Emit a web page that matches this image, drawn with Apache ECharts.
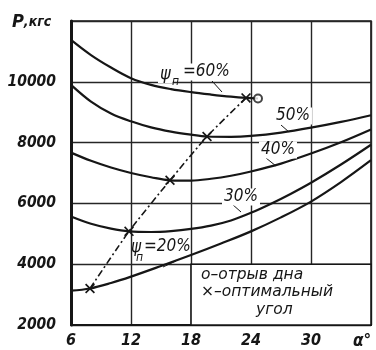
<!DOCTYPE html>
<html>
<head>
<meta charset="utf-8">
<script src="https://cdn.jsdelivr.net/npm/echarts@6/dist/echarts.min.js"></script>
<style>
  html, body { margin: 0; padding: 0; background: #fff; }
  #chart { width: 376px; height: 350px; }
</style>
</head>
<body>
<div id="chart"></div>
<script>
// Axis ticks: blade angle α (degrees) and pulling force P (kgf)
const alphaTicks = [6, 12, 18, 24, 30, 36];
const forceTicks = [2000, 4000, 6000, 8000, 10000, 12000];

// P(α) for each degree of filling ψп, [α, P]
const fill60 = [[6, 11380], [8, 10880], [10, 10470], [12, 10120], [14, 9900], [16, 9760], [18, 9660], [20, 9580], [22, 9510], [23.5, 9470], [24.7, 9450]];
const fill50 = [[6, 9900], [8, 9350], [10, 8960], [12, 8700], [14, 8500], [16, 8360], [18, 8260], [19.6, 8200], [22, 8190], [24, 8220], [27, 8330], [30, 8490], [33, 8680], [36, 8900]];
const fill40 = [[6, 7670], [8, 7400], [10, 7180], [12, 7000], [14, 6860], [15.9, 6760], [18, 6750], [20, 6810], [22, 6910], [24, 7050], [27, 7310], [30, 7640], [33, 8010], [36, 8430]];
const fill30 = [[6, 5570], [8, 5330], [10, 5170], [11.8, 5080], [14, 5060], [16, 5090], [18, 5160], [20, 5270], [22, 5440], [24, 5690], [26, 5990], [28, 6320], [30, 6680], [33, 7280], [36, 7930]];
const fill20 = [[6, 3130], [7.9, 3200], [10, 3380], [12, 3590], [15, 3940], [18, 4300], [21, 4680], [24, 5080], [27, 5540], [30, 6060], [33, 6700], [36, 7420]];

// Optimal angle on each curve, and the point where the bottom breaks away
const optimumPoints = [[7.9, 3200], [11.8, 5080], [15.9, 6760], [19.6, 8200], [23.5, 9470]];
const breakawayPoints = [[24.7, 9450]];

// Note box corners [α0, P0, α1, P1] and its text
const noteBox = [[18, 2000, 36, 4000]];
const noteLines = ['о–отрыв дна', '×–оптимальный', 'угол'];

const INK = '#161616';
const FONT = "'DejaVu Sans Condensed', 'DejaVu Sans', 'Liberation Sans Narrow', sans-serif";
const NOTE_FONT = "'DejaVu Sans', 'Liberation Sans', sans-serif";
const CROSS = 'path://M0,1.2L1.2,0L5,3.8L8.8,0L10,1.2L6.2,5L10,8.8L8.8,10L5,6.2L1.2,10L0,8.8L3.8,5Z';

function curve(name, data) {
  return {
    name, type: 'line', data,
    smooth: 0.35, symbol: 'none',
    lineStyle: { color: INK, width: 2.2 },
    z: 3
  };
}

// White boxed note with the marker explanations, laid out in axis units
function renderNote(params, api) {
  const a = api.coord([api.value(0), api.value(1)]);
  const b = api.coord([api.value(2), api.value(3)]);
  const x = Math.min(a[0], b[0]), y = Math.min(a[1], b[1]);
  const w = Math.abs(b[0] - a[0]), h = Math.abs(b[1] - a[1]);
  const line = { fontFamily: NOTE_FONT, fontStyle: 'italic', fontSize: 15.5, lineHeight: 17.5, fill: INK };
  return {
    type: 'group',
    children: [
      { type: 'rect', shape: { x, y, width: w, height: h },
        style: { fill: '#fff', stroke: INK, lineWidth: 1.6 } },
      { type: 'text', x: x + 10, y: y + 2,
        style: {
          text: '{t|' + noteLines[0] + '}\n{t|' + noteLines[1] + '}\n{c|' + noteLines[2] + '}',
          rich: {
            t: line,
            c: Object.assign({}, line, { padding: [0, 0, 0, 55] })
          },
          fill: INK
        } }
    ]
  };
}

const chart = echarts.init(document.getElementById('chart'), null, { renderer: 'canvas' });

chart.setOption({
  animation: false,
  backgroundColor: '#fff',
  grid: {
    left: 71, right: 5, top: 21, bottom: 24,
    show: true, borderColor: INK, borderWidth: 1.6, backgroundColor: 'transparent'
  },
  xAxis: {
    type: 'value',
    min: alphaTicks[0], max: alphaTicks[alphaTicks.length - 1], interval: 6,
    axisLine: { show: true, lineStyle: { color: INK, width: 2.2 } },
    axisTick: { show: false },
    splitLine: { show: true, lineStyle: { color: '#262626', width: 1.4 } },
    axisLabel: {
      margin: 8,
      color: INK,
      fontFamily: FONT, fontStyle: 'italic', fontSize: 16, fontWeight: 'bold',
      formatter: v => v === 36 ? '{a|α°}' : String(v),
      rich: { a: { fontFamily: FONT, fontStyle: 'italic', fontSize: 17, color: INK, padding: [0, 18, 0, 0] } }
    }
  },
  yAxis: {
    type: 'value',
    min: forceTicks[0], max: forceTicks[forceTicks.length - 1], interval: 2000,
    axisLine: { show: true, lineStyle: { color: INK, width: 3 } },
    axisTick: { show: false },
    splitLine: { show: true, lineStyle: { color: '#262626', width: 1.4 } },
    axisLabel: {
      margin: 15,
      color: INK,
      fontFamily: FONT, fontStyle: 'italic', fontSize: 15.5, fontWeight: 'bold',
      formatter: v => v === 12000 ? '' : String(v)
    }
  },
  series: [
    {
      name: 'note', type: 'custom', data: noteBox,
      encode: { x: [0, 2], y: [1, 3] },
      renderItem: renderNote, silent: true, z: 6
    },
    curve('ψп=60%', fill60),
    curve('50%', fill50),
    curve('40%', fill40),
    curve('30%', fill30),
    curve('ψп=20%', fill20),
    {
      name: 'оптимальный угол', type: 'line', data: optimumPoints,
      smooth: 0.2,
      symbol: CROSS, symbolSize: 10, showAllSymbol: true,
      itemStyle: { color: INK },
      lineStyle: { color: INK, width: 1.6, type: [7, 3, 2, 3] },
      z: 4
    },
    {
      name: 'отрыв дна', type: 'scatter', data: breakawayPoints,
      symbol: 'emptyCircle', symbolSize: 8,
      itemStyle: { color: INK, borderColor: INK, borderWidth: 1.6 },
      z: 5
    }
  ],
  graphic: (function () {
    const txt = (x, y, text, size, extra) => ({
      type: 'text', x, y, z: 20,
      style: Object.assign({
        text, fill: INK, font: 'italic ' + size + 'px ' + FONT,
        textVerticalAlign: 'middle'
      }, extra || {})
    });
    const lead = (x1, y1, x2, y2) => ({
      type: 'line', z: 19,
      shape: { x1, y1, x2, y2 },
      style: { stroke: INK, lineWidth: 1 }
    });
    const bg = { backgroundColor: '#fff', padding: [0, 2] };
    return [
      // axis caption
      { type: 'text', x: 12, y: 22, z: 20,
        style: { text: '{p|P},{u|кгс}', textVerticalAlign: 'middle',
          rich: {
            p: { fontFamily: FONT, fontStyle: 'italic', fontWeight: 'bold', fontSize: 18, fill: INK },
            u: { fontFamily: FONT, fontStyle: 'italic', fontWeight: 'bold', fontSize: 14, fill: INK }
          },
          font: 'italic bold 14px ' + FONT, fill: INK } },
      // ψп = 60 %
      txt(158, 74, 'ψ', 18, bg),
      txt(172, 82, 'п', 12),
      txt(181, 72, '=60%', 17, bg),
      lead(212, 81, 222, 92),
      // 50 %
      txt(274, 116, '50%', 17, bg),
      lead(281, 125, 289, 132),
      // 40 %
      txt(259, 150, '40%', 17, bg),
      lead(266, 158, 276, 166),
      // 30 %
      txt(222, 197, '30%', 17, bg),
      lead(232, 204, 241, 212),
      // ψп = 20 %
      txt(131, 248, 'ψ', 17),
      txt(136, 258, 'п', 12),
      txt(144, 247, '=20%', 17),
      lead(176, 261, 163, 267)
    ];
  })()
});
</script>
</body>
</html>
